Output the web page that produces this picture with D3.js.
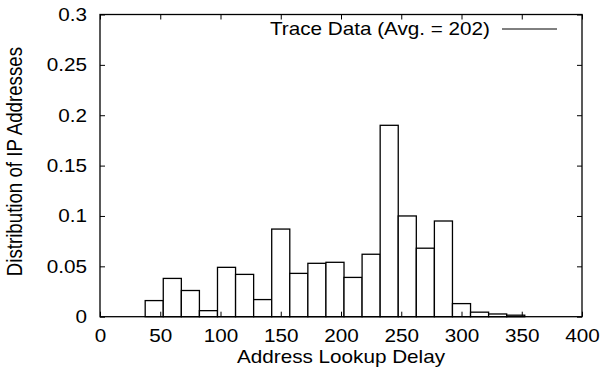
<!DOCTYPE html>
<html>
<head>
<meta charset="utf-8">
<script src="https://cdn.jsdelivr.net/npm/d3@7"></script>
<style>
  html, body { margin: 0; padding: 0; background: #fff; }
  svg { display: block; }
  text { font-family: "Liberation Sans", Arial, Helvetica, sans-serif; fill: #000; }
</style>
</head>
<body>
<svg id="chart" width="600" height="381"></svg>
<script>
// Histogram of address lookup delay (bin centres, width 15)
const binCenters = [45, 60, 75, 90, 105, 120, 135, 150, 165, 180, 195, 210, 225, 240, 255, 270, 285, 300, 315, 330, 345];
const shares = [0.016, 0.038, 0.026, 0.006, 0.049, 0.042, 0.017, 0.087, 0.043, 0.053, 0.054, 0.039, 0.062, 0.190, 0.100, 0.068, 0.095, 0.013, 0.0045, 0.0027, 0.0015];
const binWidth = 15;

const xTicks = [0, 50, 100, 150, 200, 250, 300, 350, 400];
const yTicks = [0, 0.05, 0.1, 0.15, 0.2, 0.25, 0.3];
const yTickLabels = ["0", "0.05", "0.1", "0.15", "0.2", "0.25", "0.3"];

const seriesLabel = "Trace Data (Avg. = 202)";
const xTitle = "Address Lookup Delay";
const yTitle = "Distribution of IP Addresses";

const W = 600, H = 381;
const margin = { left: 100, right: 18, top: 14.5, bottom: 64.3 };
const iw = W - margin.left - margin.right;
const ih = H - margin.top - margin.bottom;
const fontSize = 18;
const widen = 1.15;   // text is set slightly wide

const svg = d3.select("#chart");
const g = svg.append("g").attr("transform", `translate(${margin.left},${margin.top})`);

const x = d3.scaleLinear().domain([0, 400]).range([0, iw]);
const y = d3.scaleLinear().domain([0, 0.3]).range([ih, 0]);

// bars
g.append("g")
  .selectAll("rect")
  .data(binCenters.map((c, i) => ({ c, v: shares[i] })))
  .join("rect")
  .attr("x", d => x(d.c - binWidth / 2))
  .attr("width", d => x(d.c + binWidth / 2) - x(d.c - binWidth / 2))
  .attr("y", d => y(d.v))
  .attr("height", d => y(0) - y(d.v))
  .attr("fill", "#fff")
  .attr("stroke", "#000")
  .attr("stroke-width", 1.3);

// axes with inward ticks on all four sides
const tickLen = 5;
function styleAxis(sel, showLabels) {
  sel.select(".domain").remove();
  sel.selectAll(".tick line").attr("stroke", "#000").attr("stroke-width", 1);
  if (!showLabels) sel.selectAll(".tick text").remove();
  else sel.selectAll(".tick text")
    .attr("font-size", fontSize)
    .attr("fill", "#000")
    .attr("transform", `scale(${widen},1)`);
}

g.append("g")
  .attr("transform", `translate(0,${ih})`)
  .call(d3.axisBottom(x).tickValues(xTicks).tickFormat(d3.format("d"))
        .tickSizeInner(-tickLen).tickSizeOuter(0).tickPadding(13))
  .call(s => styleAxis(s, true));

g.append("g")
  .call(d3.axisTop(x).tickValues(xTicks).tickSizeInner(-tickLen).tickSizeOuter(0))
  .call(s => styleAxis(s, false));

g.append("g")
  .call(d3.axisLeft(y).tickValues(yTicks).tickFormat((d, i) => yTickLabels[i])
        .tickSizeInner(-tickLen).tickSizeOuter(0).tickPadding(13 / widen))
  .call(s => styleAxis(s, true));

g.append("g")
  .attr("transform", `translate(${iw},0)`)
  .call(d3.axisRight(y).tickValues(yTicks).tickSizeInner(-tickLen).tickSizeOuter(0))
  .call(s => styleAxis(s, false));

// frame
g.append("rect")
  .attr("x", 0).attr("y", 0).attr("width", iw).attr("height", ih)
  .attr("fill", "none").attr("stroke", "#000").attr("stroke-width", 1.3);

// legend
const legendLineX1 = 402, legendLineX2 = 457, legendY = 14.5;
g.append("line")
  .attr("x1", legendLineX1).attr("x2", legendLineX2)
  .attr("y1", legendY).attr("y2", legendY)
  .attr("stroke", "#000").attr("stroke-width", 1);
g.append("text")
  .attr("transform", `translate(${legendLineX1 - 12},${legendY}) scale(${widen},1)`)
  .attr("dy", "0.35em")
  .attr("text-anchor", "end")
  .attr("font-size", fontSize)
  .text(seriesLabel);

// axis titles
svg.append("text")
  .attr("transform", `translate(${margin.left + iw / 2},363) scale(${widen},1)`)
  .attr("text-anchor", "middle")
  .attr("font-size", fontSize)
  .text(xTitle);

svg.append("text")
  .attr("transform", `translate(22,${margin.top + ih / 2 - 4}) rotate(-90) scale(1,${widen})`)
  .attr("text-anchor", "middle")
  .attr("font-size", 18.7)
  .text(yTitle);
</script>
</body>
</html>
